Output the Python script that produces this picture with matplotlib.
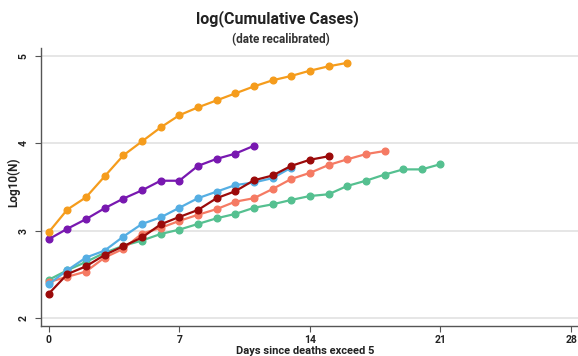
import matplotlib
matplotlib.use("Agg")
import matplotlib.pyplot as plt

plt.rcParams['font.family'] = ['Roboto', 'DejaVu Sans']

days_orange = list(range(0, 17))
orange = [2.98, 3.24, 3.38, 3.62, 3.86, 4.02, 4.18, 4.32, 4.41, 4.49, 4.57, 4.65, 4.72, 4.77, 4.83, 4.88, 4.92]
days_purple = list(range(0, 12))
purple = [2.90, 3.02, 3.13, 3.255, 3.365, 3.46, 3.57, 3.57, 3.74, 3.82, 3.88, 3.97]
days_blue = list(range(0, 14))
blue = [2.385, 2.545, 2.69, 2.77, 2.93, 3.075, 3.15, 3.26, 3.37, 3.445, 3.52, 3.55, 3.60, 3.72]
days_salmon = list(range(0, 19))
salmon = [2.41, 2.47, 2.53, 2.69, 2.79, 2.965, 3.03, 3.11, 3.18, 3.245, 3.33, 3.37, 3.475, 3.59, 3.66, 3.75, 3.815, 3.875, 3.91]
days_green = list(range(0, 22))
green = [2.435, 2.545, 2.64, 2.745, 2.825, 2.885, 2.96, 3.01, 3.075, 3.14, 3.19, 3.26, 3.30, 3.35, 3.395, 3.415, 3.51, 3.57, 3.64, 3.70, 3.70, 3.76]
days_darkred = list(range(0, 16))
darkred = [2.275, 2.50, 2.59, 2.72, 2.82, 2.92, 3.07, 3.155, 3.235, 3.37, 3.45, 3.575, 3.63, 3.74, 3.81, 3.85]

x_ticks = [0, 7, 14, 21, 28]
y_ticks = [2, 3, 4, 5]

fig = plt.figure(figsize=(5.78, 3.56), dpi=100)
ax = fig.add_axes([41/578, 1-325.7/356, (578-41)/578, (325.7-48)/356])

series = [
    (days_green, green, '#55c090'),
    (days_salmon, salmon, '#f57a63'),
    (days_blue, blue, '#55aee3'),
    (days_darkred, darkred, '#9b0a0a'),
    (days_purple, purple, '#7818b0'),
    (days_orange, orange, '#f59c1c'),
]
for xs, ys, c in series:
    ax.plot(xs, ys, '-o', color=c, lw=1.6, ms=4.8, zorder=3)

ax.set_xlim(-0.41, 28.37)
ax.set_ylim(1.91, 5.09)
ax.set_xticks(x_ticks)
ax.set_yticks(y_ticks)
ax.grid(axis='y', color='#e2e2e2', lw=1.2)
ax.grid(axis='x', visible=False)
ax.set_axisbelow(True)
for s in ['top', 'right']:
    ax.spines[s].set_visible(False)
for s in ['left', 'bottom']:
    ax.spines[s].set_color('#555555')
    ax.spines[s].set_linewidth(1.0)
ax.tick_params(axis='both', colors='#555555', length=4, width=0.8, labelcolor='#222222', labelsize=7.5)
ax.tick_params(axis='x', pad=2.5)
ax.tick_params(axis='y', pad=5)
for lab in ax.get_yticklabels():
    lab.set_rotation(90)
    lab.set_va('center')
    lab.set_fontweight('bold')
for lab in ax.get_xticklabels():
    lab.set_fontweight('bold')

ax.set_xlabel('Days since deaths exceed 5', fontsize=8, fontweight='bold', color='#222222', va='center')
ax.xaxis.set_label_coords((305-41)/537, (325.7-350.5)/277.7)
ax.set_ylabel('Log10(N)', fontsize=8.5, fontweight='bold', color='#222222', va='center')
ax.yaxis.set_label_coords((14-41)/537, (325.7-182)/277.7)

fig.text(277/578, 1-19/356, 'log(Cumulative Cases)', ha='center', va='center', fontsize=11.5, fontweight='bold', color='#222222')
fig.text(281/578, 1-40/356, '(date recalibrated)', ha='center', va='center', fontsize=8.5, fontweight='bold', color='#333333')

fig.savefig('out.png', dpi=100)
